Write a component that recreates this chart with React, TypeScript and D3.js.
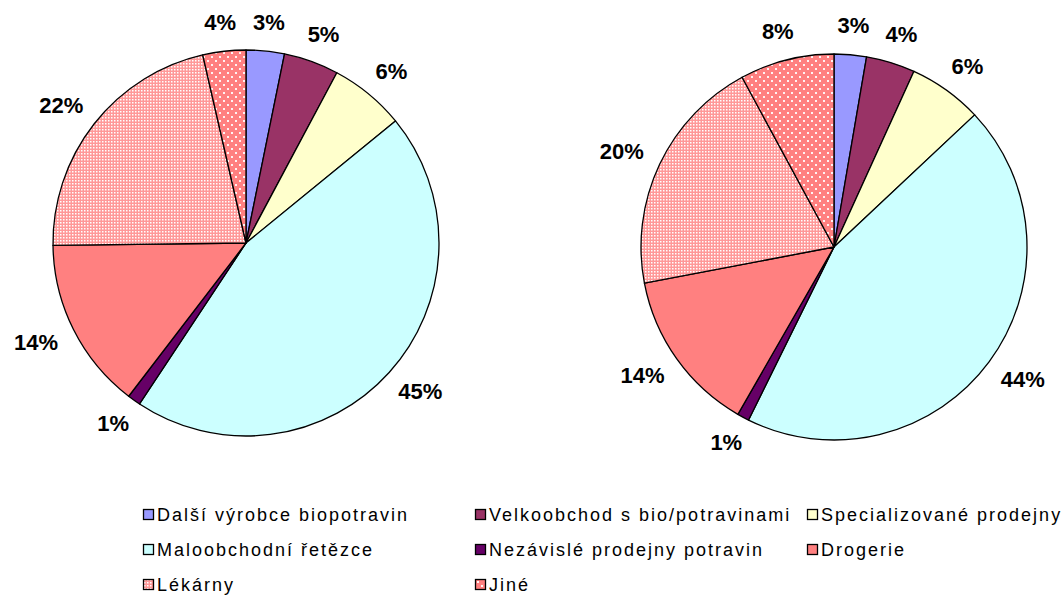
import React from "react";
import * as d3 from "d3";

const categories = [
  "Další výrobce biopotravin",
  "Velkoobchod s bio/potravinami",
  "Specializované prodejny",
  "Maloobchodní řetězce",
  "Nezávislé prodejny potravin",
  "Drogerie",
  "Lékárny",
  "Jiné",
];
const leftValues = [3.2, 4.6, 6.3, 45.2, 1.1, 14.4, 21.6, 3.6];
const rightValues = [2.7, 4.1, 6.2, 44.3, 1.0, 13.7, 20.1, 7.9];
const fills = [
  "#9999FF",
  "#993366",
  "#FFFFCC",
  "#CCFFFF",
  "#660066",
  "#FF8080",
  "url(#patLek)",
  "url(#patJine)",
];
const legendOrder = [0, 1, 2, 3, 4, 5, 6, 7];

const W = 1062;
const H = 596;
const R = 193;
const pies = [
  { cx: 246, cy: 243, values: leftValues },
  { cx: 834, cy: 247, values: rightValues },
];
const labelFont = 22;
const legendFont = 18;
const legendCols = [143, 475, 807];
const legendRows = [515, 550, 585];

function PieChart({ cx, cy, values }: { cx: number; cy: number; values: number[] }) {
  const pie = d3.pie<number>().sort(null).value((d) => d);
  const arcs = pie(values);
  const arc = d3.arc<d3.PieArcDatum<number>>().innerRadius(0).outerRadius(R);
  return (
    <g transform={`translate(${cx},${cy})`}>
      {arcs.map((a, i) => (
        <path
          key={i}
          d={arc(a) || ""}
          fill={fills[i]}
          stroke="#000"
          strokeWidth={1.3}
          strokeLinejoin="round"
        />
      ))}
      {arcs.map((a, i) => {
        const ang = (a.startAngle + a.endAngle) / 2;
        const s = Math.sin(ang);
        const c = -Math.cos(ang);
        const txt = `${Math.round(a.data)}%`;
        const w = ((txt.length - 1) * 0.556 + 0.889) * labelFont;
        const h = 18;
        const dist = R + 20;
        return (
          <text
            key={"l" + i}
            x={s * dist + (s * w) / 2}
            y={c * dist + (c * h) / 2}
            textAnchor="middle"
            dominantBaseline="central"
            fontFamily="'Liberation Sans', Arial, sans-serif"
            fontWeight="bold"
            fontSize={labelFont}
            fill="#000"
          >
            {txt}
          </text>
        );
      })}
    </g>
  );
}

export default function App() {
  return (
    <svg
      width={W}
      height={H}
      style={{ position: "absolute", left: 0, top: 0, background: "#fff" }}
    >
      <defs>
        <pattern id="patLek" width={3} height={3} patternUnits="userSpaceOnUse">
          <rect width={3} height={3} fill="#FF9898" />
          <rect width={1.5} height={1.5} fill="#FFFFFF" />
        </pattern>
        <pattern id="patJine" width={8} height={8} patternUnits="userSpaceOnUse">
          <rect width={8} height={8} fill="#FF8080" />
          <rect x={1} y={1} width={2} height={2} fill="#FFFFFF" opacity={0.9} />
          <rect x={5} y={5} width={2} height={2} fill="#FFFFFF" opacity={0.9} />
        </pattern>
      </defs>
      <rect width={W} height={H} fill="#fff" />
      {pies.map((p, i) => (
        <PieChart key={i} cx={p.cx} cy={p.cy} values={p.values} />
      ))}
      {legendOrder.map((ci, k) => {
        const col = k % 3;
        const row = Math.floor(k / 3);
        const x = legendCols[col];
        const y = legendRows[row];
        return (
          <g key={"lg" + k}>
            <rect
              x={x + 0.5}
              y={y - 5.5}
              width={10}
              height={10}
              fill={fills[ci]}
              stroke="#000"
              strokeWidth={1.3}
            />
            <text
              x={x + 14}
              y={y}
              dominantBaseline="central"
              fontFamily="'Liberation Sans', Arial, sans-serif"
              fontSize={legendFont}
              letterSpacing={2}
              fill="#000"
            >
              {categories[ci]}
            </text>
          </g>
        );
      })}
    </svg>
  );
}
